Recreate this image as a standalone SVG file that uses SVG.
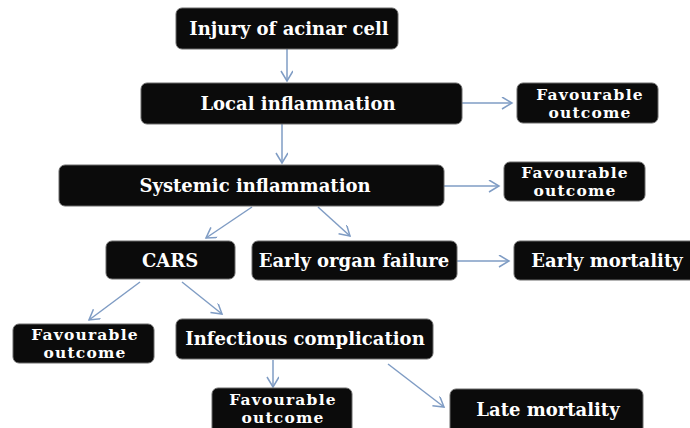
<svg xmlns="http://www.w3.org/2000/svg" width="690" height="428" viewBox="0 0 690 428">
<defs>
<marker id="ah" markerWidth="14" markerHeight="14" refX="11" refY="6" orient="auto" markerUnits="userSpaceOnUse">
<path d="M1,0 L11,6 L1,12" fill="none" stroke="#7f9cc4" stroke-width="1.5"/>
</marker>
<style>
.box{fill:#0b0b0b;stroke:#6a6a6a;stroke-width:1}
.t{font-family:"DejaVu Serif","Liberation Serif",serif;font-weight:bold;font-size:18px;fill:#ffffff;text-anchor:middle}
.s{font-size:15.5px;letter-spacing:1.2px}
.c{fill:none;stroke:#7f9cc4;stroke-width:1.5;marker-end:url(#ah)}
</style>
</defs>
<rect width="690" height="428" fill="#ffffff"/>
<g id="connectors">
<line class="c" x1="287" y1="49" x2="287" y2="81"/>
<line class="c" x1="462" y1="103" x2="512" y2="103"/>
<line class="c" x1="282" y1="124" x2="282" y2="163"/>
<line class="c" x1="444" y1="186" x2="499" y2="186"/>
<line class="c" x1="252" y1="207" x2="206" y2="238"/>
<line class="c" x1="318" y1="207" x2="350" y2="236"/>
<line class="c" x1="457" y1="261" x2="509" y2="261"/>
<line class="c" x1="140" y1="282" x2="89" y2="320"/>
<line class="c" x1="182" y1="282" x2="222" y2="314"/>
<line class="c" x1="273" y1="360" x2="273" y2="387"/>
<line class="c" x1="388" y1="364" x2="444" y2="407"/>
</g>
<g id="n1"><rect class="box" x="176" y="8" width="222" height="41" rx="6"/><text class="t" x="289" y="35">Injury of acinar cell</text></g>
<g id="n2"><rect class="box" x="141" y="83" width="321" height="41" rx="6"/><text class="t" x="298" y="110">Local inflammation</text></g>
<g id="n3"><rect class="box" x="517" y="83" width="141" height="40" rx="6"/><text class="t s" x="590" y="100">Favourable</text><text class="t s" x="590" y="118">outcome</text></g>
<g id="n4"><rect class="box" x="59" y="165" width="385" height="41" rx="6"/><text class="t" x="255" y="192">Systemic inflammation</text></g>
<g id="n5"><rect class="box" x="504" y="162" width="141" height="39" rx="6"/><text class="t s" x="575" y="178">Favourable</text><text class="t s" x="575" y="196">outcome</text></g>
<g id="n6"><rect class="box" x="106" y="241" width="129" height="38" rx="6"/><text class="t" x="170" y="267">CARS</text></g>
<g id="n7"><rect class="box" x="252" y="241" width="205" height="39" rx="6"/><text class="t" x="354" y="267">Early organ failure</text></g>
<g id="n8"><rect class="box" x="514" y="241" width="182" height="39" rx="6"/><text class="t" x="607" y="267">Early mortality</text></g>
<g id="n9"><rect class="box" x="13" y="324" width="141" height="39" rx="6"/><text class="t s" x="85" y="340">Favourable</text><text class="t s" x="85" y="358">outcome</text></g>
<g id="n10"><rect class="box" x="176" y="319" width="257" height="40" rx="6"/><text class="t" x="305" y="345">Infectious complication</text></g>
<g id="n11"><rect class="box" x="212" y="388" width="140" height="46" rx="6"/><text class="t s" x="283" y="405">Favourable</text><text class="t s" x="283" y="423">outcome</text></g>
<g id="n12"><rect class="box" x="450" y="389" width="193" height="45" rx="6"/><text class="t" x="548" y="416">Late mortality</text></g>
</svg>
